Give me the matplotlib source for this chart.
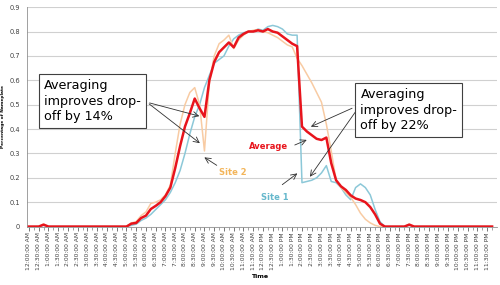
# nameplate output for two sites and their average, by time of day

import matplotlib.pyplot as plt

time_labels = ['12:00:00 AM', '12:30:00 AM', '1:00:00 AM', '1:30:00 AM', '2:00:00 AM', '2:30:00 AM',
               '3:00:00 AM', '3:30:00 AM', '4:00:00 AM', '4:30:00 AM', '5:00:00 AM', '5:30:00 AM',
               '6:00:00 AM', '6:30:00 AM', '7:00:00 AM', '7:30:00 AM', '8:00:00 AM', '8:30:00 AM',
               '9:00:00 AM', '9:30:00 AM', '10:00:00 AM', '10:30:00 AM', '11:00:00 AM', '11:30:00 AM',
               '12:00:00 PM', '12:30:00 PM', '1:00:00 PM', '1:30:00 PM', '2:00:00 PM', '2:30:00 PM',
               '3:00:00 PM', '3:30:00 PM', '4:00:00 PM', '4:30:00 PM', '5:00:00 PM', '5:30:00 PM',
               '6:00:00 PM', '6:30:00 PM', '7:00:00 PM', '7:30:00 PM', '8:00:00 PM', '8:30:00 PM',
               '9:00:00 PM', '9:30:00 PM', '10:00:00 PM', '10:30:00 PM', '11:00:00 PM', '11:30:00 PM']

# 15 minute readings, 96 per day
site1 = [0, 0, 0, 0.005, 0, 0, 0, 0, 0, 0, 0, 0, 0, 0, 0, 0, 0, 0, 0, 0,
         0, 0.005, 0.01, 0.025, 0.035, 0.05, 0.07, 0.09, 0.11, 0.14,
         0.18, 0.23, 0.30, 0.38, 0.45, 0.50, 0.57, 0.62, 0.67, 0.685,
         0.70, 0.74, 0.77, 0.785, 0.795, 0.80, 0.80, 0.81, 0.805, 0.82,
         0.825, 0.82, 0.81, 0.79, 0.785, 0.785, 0.18, 0.185, 0.19, 0.20,
         0.22, 0.25, 0.185, 0.18, 0.16, 0.13, 0.11, 0.16, 0.175, 0.16,
         0.13, 0.07, 0.02, 0, 0, 0, 0, 0, 0.005, 0,
         0, 0, 0, 0, 0, 0, 0, 0, 0, 0, 0, 0, 0, 0, 0, 0]

site2 = [0, 0, 0, 0.01, 0, 0, 0, 0, 0, 0, 0, 0, 0, 0, 0, 0, 0, 0, 0, 0,
         0, 0.015, 0.02, 0.045, 0.06, 0.095, 0.10, 0.11, 0.13, 0.17,
         0.30, 0.42, 0.50, 0.55, 0.57, 0.50, 0.31, 0.59, 0.70, 0.75,
         0.765, 0.785, 0.73, 0.765, 0.785, 0.80, 0.805, 0.808, 0.80, 0.795,
         0.785, 0.775, 0.76, 0.745, 0.737, 0.69, 0.66, 0.625, 0.59, 0.55,
         0.51, 0.42, 0.31, 0.19, 0.16, 0.14, 0.12, 0.09, 0.055, 0.03,
         0.015, 0.005, 0, 0, 0, 0, 0, 0, 0.01, 0,
         0, 0, 0, 0, 0, 0, 0, 0, 0, 0, 0, 0, 0, 0, 0, 0]

average = [0, 0, 0, 0.008, 0, 0, 0, 0, 0, 0, 0, 0, 0, 0, 0, 0, 0, 0, 0, 0,
           0, 0.012, 0.015, 0.035, 0.045, 0.072, 0.085, 0.10, 0.125, 0.16,
           0.24, 0.33, 0.41, 0.465, 0.525, 0.485, 0.45, 0.60, 0.675, 0.715,
           0.735, 0.755, 0.735, 0.775, 0.79, 0.80, 0.80, 0.805, 0.80, 0.81,
           0.80, 0.795, 0.78, 0.765, 0.75, 0.74, 0.41, 0.39, 0.375, 0.36,
           0.355, 0.365, 0.26, 0.19, 0.165, 0.15, 0.128, 0.115, 0.109, 0.10,
           0.08, 0.05, 0.012, 0, 0, 0, 0, 0, 0.008, 0,
           0, 0, 0, 0, 0, 0, 0, 0, 0, 0, 0, 0, 0, 0, 0, 0]

x = list(range(len(average)))

fig = plt.figure(figsize=(5, 2.85), dpi=100)
ax = fig.add_axes([0.054, 0.205, 0.94, 0.77])

ax.plot(x, site1, color='#8cc8d8', lw=1.1, zorder=2)
ax.plot(x, site2, color='#f8cba3', lw=1.1, zorder=2)
ax.plot(x, average, color='#e8141c', lw=1.8, zorder=3)

ax.set_ylim(0, 0.9)
ax.set_xlim(-0.4, 96)
ax.set_yticks([0, 0.1, 0.2, 0.3, 0.4, 0.5, 0.6, 0.7, 0.8, 0.9])
ax.set_yticklabels(['0', '0.1', '0.2', '0.3', '0.4', '0.5', '0.6', '0.7', '0.8', '0.9'])
ax.set_xticks(x[::2])
ax.set_xticklabels(time_labels, rotation=90)
ax.set_xticks(x, minor=True)
ax.tick_params(axis='x', labelsize=4.3, colors='#404040', length=3, width=0.5, pad=1)
ax.tick_params(axis='x', which='minor', length=2, width=0.5, color='#808080')
ax.tick_params(axis='y', labelsize=4.8, colors='#404040', length=0, pad=5)
ax.grid(axis='y', color='#d0d0d0', lw=0.8)
ax.set_axisbelow(True)
for s in ['top', 'right']:
    ax.spines[s].set_visible(False)
ax.spines['left'].set_color('#909090')
ax.spines['bottom'].set_color('#909090')
ax.spines['left'].set_linewidth(0.6)
ax.spines['bottom'].set_linewidth(0.6)

fig.text(0.002, 0.59, 'Percentage of Nameplate', rotation=90, fontsize=3.2, fontweight='bold',
         ha='left', va='center')
fig.text(0.52, 0.03, 'Time', fontsize=4.5, fontweight='bold', ha='center', va='center')

# callout boxes
box = dict(boxstyle='square,pad=0.4', fc='white', ec='#404040', lw=0.8)
ax.text(3.1, 0.605, 'Averaging\nimproves drop-\noff by 14%', fontsize=9.2, ha='left', va='top',
        bbox=box, linespacing=1.25, zorder=5)
ax.text(68, 0.568, 'Averaging\nimproves drop-\noff by 22%', fontsize=9.2, ha='left', va='top',
        bbox=box, linespacing=1.25, zorder=5)

arr = dict(arrowstyle='->', color='#303030', lw=0.6)
ax.annotate('', xy=(35.5, 0.45), xytext=(24.2, 0.51), arrowprops=arr)
ax.annotate('', xy=(35.5, 0.335), xytext=(24.2, 0.51), arrowprops=arr)
ax.annotate('', xy=(57.3, 0.405), xytext=(66.8, 0.49), arrowprops=arr)
ax.annotate('', xy=(57.3, 0.195), xytext=(67.3, 0.48), arrowprops=arr)

# series labels
ax.text(45.2, 0.33, 'Average', color='#e8141c', fontsize=6, fontweight='bold', ha='left', va='center')
ax.annotate('', xy=(57.5, 0.36), xytext=(54, 0.33), arrowprops=arr)
ax.text(39, 0.22, 'Site 2', color='#f3b55a', fontsize=6, fontweight='bold', ha='left', va='center')
ax.annotate('', xy=(35.5, 0.29), xytext=(39, 0.245), arrowprops=arr)
ax.text(47.5, 0.12, 'Site 1', color='#66b8cc', fontsize=6, fontweight='bold', ha='left', va='center')
ax.annotate('', xy=(55.5, 0.225), xytext=(51.5, 0.165), arrowprops=arr)

fig.savefig('out.png', dpi=100)
